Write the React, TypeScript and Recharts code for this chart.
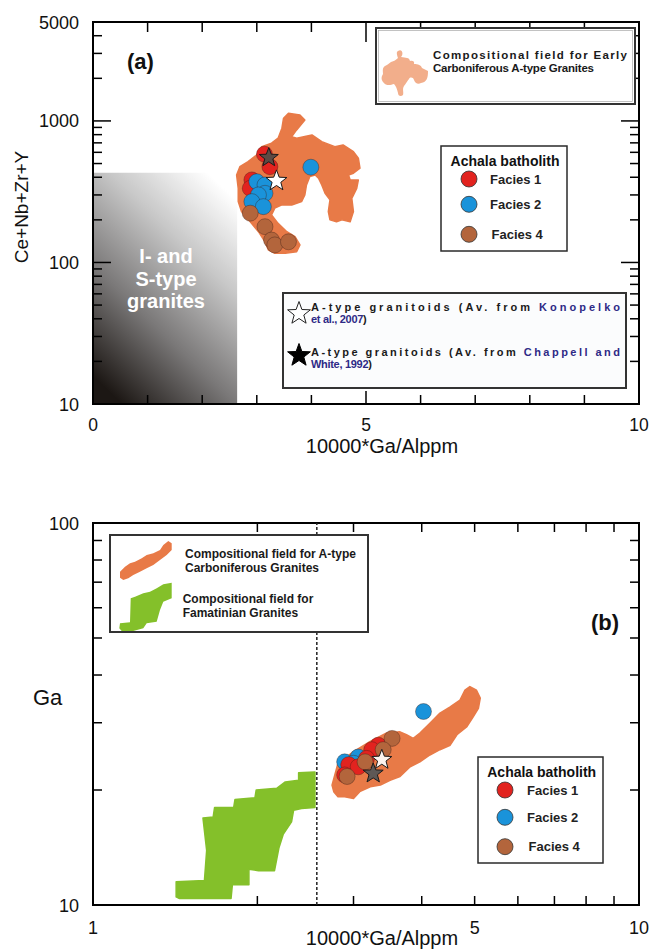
import React from "react"
import {
  ScatterChart,
  Scatter,
  XAxis,
  YAxis,
  ReferenceArea,
  ReferenceLine,
} from "recharts"

// ─── Colors ──────────────────────────────────────────────────────────────────
const RED = "#e2231f"
const BLUE = "#1a93da"
const BROWN = "#b3653c"
const FIELD_ORANGE = "#e87a47"
const FIELD_SALMON = "#f2ae8b"
const FIELD_GREEN = "#84c02a"
const REF_BLUE = "#2e2a86"
const INK = "#111"
const FONT = '"Liberation Sans", Arial, Helvetica, sans-serif'

// ─── Panel (a): 10000*Ga/Al vs Ce+Nb+Zr+Y ────────────────────────────────────
const A_X_TICKS = [0, 1, 2, 3, 4, 5, 6, 7, 8, 9, 10]
const A_X_LABELS = [0, 5, 10]
const A_Y_TICKS = [
  10, 20, 30, 40, 50, 60, 70, 80, 90,
  100, 200, 300, 400, 500, 600, 700, 800, 900,
  1000, 2000, 3000, 4000, 5000,
]
const A_Y_LABELS = [10, 100, 1000, 5000]
const A_Y_MAJOR = [10, 100, 1000]

// I- and S-type granite field (upper limits)
const IS_GA_AL_MAX = 2.64
const IS_SUM_MAX = 430

// Early Carboniferous A-type granites field outline
const A_FIELD_CARB: [number, number][] = [
  [3.58, 1133], [3.79, 1103], [3.88, 1016], [3.73, 864], [3.64, 774], [3.73, 755],
  [4.01, 796], [4.19, 714], [4.43, 658], [4.58, 677], [4.77, 607], [4.86, 545],
  [4.89, 463], [4.77, 427], [4.68, 415], [4.71, 383], [4.86, 383], [4.83, 334],
  [4.74, 284], [4.77, 229], [4.71, 194], [4.56, 200], [4.46, 194], [4.34, 200],
  [4.31, 229], [4.34, 277], [4.25, 308], [4.19, 353], [4.13, 394], [4.07, 415],
  [3.97, 404], [3.91, 353], [3.88, 300], [3.82, 269], [3.64, 255], [3.46, 255],
  [3.33, 242], [3.27, 217], [3.39, 189], [3.55, 165], [3.7, 152], [3.79, 133],
  [3.73, 119], [3.52, 116], [3.33, 116], [3.21, 123], [3.15, 140], [3.03, 165],
  [2.88, 194], [2.72, 229], [2.66, 269], [2.66, 334], [2.63, 415], [2.69, 475],
  [2.84, 516], [3.0, 575], [3.09, 658], [3.27, 696], [3.39, 755], [3.46, 888],
  [3.49, 1045],
]

const A_FACIES1: [number, number][] = [[3.14, 582], [3.24, 475], [2.91, 383], [2.88, 334]]
const A_FACIES2: [number, number][] = [
  [3.0, 372], [3.15, 353], [3.15, 308], [3.03, 300], [2.91, 269], [3.12, 248], [3.99, 471],
]
const A_FACIES4: [number, number][] = [[2.88, 223], [3.15, 179], [3.27, 144], [3.33, 133], [3.58, 140]]
const A_STAR_KONOPELKO: [number, number][] = [[3.36, 377]]
const A_STAR_CHAPPELL: [number, number][] = [[3.22, 551]]

// ─── Panel (b): 10000*Ga/Al vs Ga ────────────────────────────────────────────
const B_X_TICKS = [1, 2, 3, 4, 5, 6, 7, 8, 9, 10]
const B_X_LABELS = [1, 5, 10]
const B_Y_TICKS = [10, 20, 30, 40, 50, 60, 70, 80, 90, 100]
const B_Y_LABELS = [10, 100]
const B_BOUNDARY = 2.57

const B_FIELD_CARB: [number, number][] = [
  [2.74, 20.6], [2.81, 23.5], [3.0, 25.2], [3.22, 26.8], [3.45, 28.2], [3.65, 28.4],
  [3.75, 27.9], [3.86, 27.3], [3.97, 28.2], [4.14, 29.9], [4.32, 31.8], [4.51, 33.0],
  [4.7, 34.4], [4.8, 36.5], [4.9, 37.3], [5.04, 36.5], [5.12, 34.8], [5.08, 32.7],
  [4.97, 31.1], [4.84, 29.3], [4.64, 27.9], [4.51, 26.2], [4.32, 25.5], [4.14, 24.7],
  [3.97, 23.7], [3.81, 23.0], [3.65, 21.7], [3.5, 21.2], [3.36, 20.6], [3.22, 20.4],
  [3.08, 19.8], [3.0, 19.0], [2.89, 19.2], [2.81, 19.2], [2.76, 19.8],
]
const B_FIELD_FAMATINIAN: [number, number][] = [
  [1.42, 11.5], [1.6, 11.6], [1.615, 13.9], [1.59, 16.9], [1.66, 17.0], [1.67, 18.0],
  [1.81, 18.0], [1.82, 18.9], [1.98, 19.1], [1.99, 20.0], [2.17, 20.2], [2.25, 21.0],
  [2.38, 21.2], [2.38, 22.2], [2.55, 22.3], [2.55, 18.0], [2.41, 17.9], [2.33, 17.7],
  [2.31, 16.5], [2.23, 15.3], [2.19, 14.1], [2.15, 12.3], [2.01, 12.3], [1.93, 12.4],
  [1.93, 11.3], [1.8, 11.3], [1.79, 10.4], [1.44, 10.4], [1.42, 10.5],
]

const B_FACIES1: [number, number][] = [[3.33, 26.2], [3.24, 25.5], [3.17, 24.2], [2.94, 23.3], [3.06, 23.0], [2.89, 21.9]]
const B_FACIES2: [number, number][] = [[4.03, 32.1], [3.06, 24.4], [2.89, 23.7], [3.0, 23.5]]
const B_FACIES4: [number, number][] = [[3.53, 27.3], [3.4, 25.5], [3.15, 23.7], [2.92, 21.7]]
const B_STAR_KONOPELKO: [number, number][] = [[3.38, 24.0]]
const B_STAR_CHAPPELL: [number, number][] = [[3.26, 22.1]]

// ─── Layout ──────────────────────────────────────────────────────────────────
const W = 651
const A_H = 470
const B_H = 482
const A_PLOT = { left: 93, right: 639, top: 22, bottom: 404 }
const B_PLOT = { left: 93, right: 639, top: 53, bottom: 435 }

// ─── Helpers ─────────────────────────────────────────────────────────────────
const pts = (rows: [number, number][]) => rows.map(([x, y]) => ({ x, y }))

function starPoints(cx: number, cy: number, R: number, r: number) {
  const out: string[] = []
  for (let i = 0; i < 10; i++) {
    const rad = i % 2 === 0 ? R : r
    const a = -Math.PI / 2 + (i * Math.PI) / 5
    out.push(`${(cx + rad * Math.cos(a)).toFixed(1)},${(cy + rad * Math.sin(a)).toFixed(1)}`)
  }
  return out.join(" ")
}

const NoDot = () => <g />

const dot = (fill: string) => (p: any) => (
  <circle cx={p.cx} cy={p.cy} r={8} fill={fill} stroke="rgba(60,30,20,0.55)" strokeWidth={0.7} />
)

const star = (fill: string, R: number) => (p: any) => (
  <polygon points={starPoints(p.cx, p.cy, R, R * 0.42)} fill={fill} stroke="#1a1a1a" strokeWidth={1} />
)

const fieldLine = (color: string) => ({
  fill: color,
  stroke: color,
  strokeWidth: 1.5,
  strokeLinejoin: "round" as const,
})

// ─── Axis ticks (inward, mirrored on the opposite side) ──────────────────────
function ATickX(props: any) {
  const { x, payload } = props
  const v = payload.value
  const major = v === 5
  return (
    <g>
      <line x1={x} x2={x} y1={A_PLOT.bottom} y2={A_PLOT.bottom - (major ? 13 : 9)} stroke="#000" strokeWidth={1.5} />
      <line x1={x} x2={x} y1={A_PLOT.top} y2={A_PLOT.top + (major ? 20 : 10)} stroke="#000" strokeWidth={1.5} />
      {A_X_LABELS.includes(v) && (
        <text x={x} y={A_PLOT.bottom + 26.5} textAnchor="middle" fontSize={17.5} fill={INK} fontFamily={FONT}>
          {v}
        </text>
      )}
    </g>
  )
}

function ATickY(props: any) {
  const { y, payload } = props
  const v = payload.value
  const len = A_Y_MAJOR.includes(v) ? 18 : 9
  return (
    <g>
      <line x1={A_PLOT.left} x2={A_PLOT.left + len} y1={y} y2={y} stroke="#000" strokeWidth={1.5} />
      <line x1={A_PLOT.right - len} x2={A_PLOT.right} y1={y} y2={y} stroke="#000" strokeWidth={1.5} />
      {A_Y_LABELS.includes(v) && (
        <text x={A_PLOT.left - 14} y={y + 6.5} textAnchor="end" fontSize={18} fill={INK} fontFamily={FONT}>
          {v}
        </text>
      )}
    </g>
  )
}

function BTickX(props: any) {
  const { x, payload } = props
  const v = payload.value
  return (
    <g>
      <line x1={x} x2={x} y1={B_PLOT.bottom} y2={B_PLOT.bottom - 9} stroke="#000" strokeWidth={1.5} />
      <line x1={x} x2={x} y1={B_PLOT.top} y2={B_PLOT.top + 9} stroke="#000" strokeWidth={1.5} />
      {B_X_LABELS.includes(v) && (
        <text x={x} y={B_PLOT.bottom + 28.5} textAnchor="middle" fontSize={18} fill={INK} fontFamily={FONT}>
          {v}
        </text>
      )}
    </g>
  )
}

function BTickY(props: any) {
  const { y, payload } = props
  const v = payload.value
  return (
    <g>
      <line x1={B_PLOT.left} x2={B_PLOT.left + 9} y1={y} y2={y} stroke="#000" strokeWidth={1.5} />
      <line x1={B_PLOT.right - 9} x2={B_PLOT.right} y1={y} y2={y} stroke="#000" strokeWidth={1.5} />
      {B_Y_LABELS.includes(v) && (
        <text x={B_PLOT.left - 14} y={y + 6.5} textAnchor="end" fontSize={18} fill={INK} fontFamily={FONT}>
          {v}
        </text>
      )}
    </g>
  )
}

// ─── Panels ──────────────────────────────────────────────────────────────────
function PanelA() {
  return (
    <ScatterChart width={W} height={A_H} margin={{ top: 22, right: 12, bottom: 36, left: 33 }}>
      <XAxis
        type="number"
        dataKey="x"
        domain={[0, 10]}
        ticks={A_X_TICKS}
        interval={0}
        allowDataOverflow
        axisLine={false}
        tickLine={false}
        tick={ATickX}
        height={30}
      />
      <YAxis
        type="number"
        dataKey="y"
        scale="log"
        domain={[10, 5000]}
        ticks={A_Y_TICKS}
        interval={0}
        allowDataOverflow
        axisLine={false}
        tickLine={false}
        tick={ATickY}
        width={60}
      />
      <ReferenceArea x1={0} x2={IS_GA_AL_MAX} y1={10} y2={IS_SUM_MAX} fill="url(#isGradient)" fillOpacity={1} stroke="none" />
      <Scatter data={pts(A_FIELD_CARB)} line={fieldLine(FIELD_ORANGE)} lineJointType="linearClosed" shape={NoDot} isAnimationActive={false} />
      <Scatter data={pts(A_FACIES1)} shape={dot(RED)} isAnimationActive={false} />
      <Scatter data={pts(A_FACIES2)} shape={dot(BLUE)} isAnimationActive={false} />
      <Scatter data={pts(A_FACIES4)} shape={dot(BROWN)} isAnimationActive={false} />
      <Scatter data={pts(A_STAR_CHAPPELL)} shape={star("#5b4a44", 10)} isAnimationActive={false} />
      <Scatter data={pts(A_STAR_KONOPELKO)} shape={star("#ffffff", 11)} isAnimationActive={false} />
      <ReferenceArea x1={0} x2={10} y1={10} y2={5000} fill="none" stroke="#000" strokeWidth={2} />
    </ScatterChart>
  )
}

function PanelB() {
  return (
    <ScatterChart width={W} height={B_H} margin={{ top: 53, right: 12, bottom: 17, left: 33 }}>
      <XAxis
        type="number"
        dataKey="x"
        scale="log"
        domain={[1, 10]}
        ticks={B_X_TICKS}
        interval={0}
        allowDataOverflow
        axisLine={false}
        tickLine={false}
        tick={BTickX}
        height={30}
      />
      <YAxis
        type="number"
        dataKey="y"
        scale="log"
        domain={[10, 100]}
        ticks={B_Y_TICKS}
        interval={0}
        allowDataOverflow
        axisLine={false}
        tickLine={false}
        tick={BTickY}
        width={60}
      />
      <ReferenceLine x={B_BOUNDARY} stroke="#222" strokeWidth={1.5} strokeDasharray="3 2" />
      <Scatter data={pts(B_FIELD_FAMATINIAN)} line={fieldLine(FIELD_GREEN)} lineJointType="linearClosed" shape={NoDot} isAnimationActive={false} />
      <Scatter data={pts(B_FIELD_CARB)} line={fieldLine(FIELD_ORANGE)} lineJointType="linearClosed" shape={NoDot} isAnimationActive={false} />
      <Scatter data={pts(B_FACIES2)} shape={dot(BLUE)} isAnimationActive={false} />
      <Scatter data={pts(B_FACIES1)} shape={dot(RED)} isAnimationActive={false} />
      <Scatter data={pts(B_FACIES4)} shape={dot(BROWN)} isAnimationActive={false} />
      <Scatter data={pts(B_STAR_KONOPELKO)} shape={star("#fbf3ee", 10.5)} isAnimationActive={false} />
      <Scatter data={pts(B_STAR_CHAPPELL)} shape={star("#5e5856", 10.5)} isAnimationActive={false} />
      <ReferenceArea x1={1} x2={10} y1={10} y2={100} fill="none" stroke="#000" strokeWidth={2} />
    </ScatterChart>
  )
}

// ─── Legends and labels drawn over both panels ───────────────────────────────
function FaciesLegend({ x, y, w, h, titleX, titleY, dotX, rows, labelX }: any) {
  const colors = [RED, BLUE, BROWN]
  const names = ["Facies 1", "Facies 2", "Facies 4"]
  return (
    <g>
      <rect x={x} y={y} width={w} height={h} fill="#fff" stroke="#2a2a2a" strokeWidth={1.5} />
      <text x={titleX} y={titleY + 5} textAnchor="middle" fontSize={14} fontWeight="bold" fill={INK}>
        Achala batholith
      </text>
      {rows.map((ry: number, i: number) => (
        <g key={names[i]}>
          <circle cx={dotX} cy={ry} r={8} fill={colors[i]} stroke="#333" strokeWidth={0.8} />
          <text x={labelX + (i === 2 ? 1.5 : 0)} y={ry + 4.7} fontSize={13} fontWeight="bold" fill="#222">
            {names[i]}
          </text>
        </g>
      ))}
    </g>
  )
}

function Overlay() {
  return (
    <svg
      width={W}
      height={952}
      style={{ position: "absolute", left: 0, top: 0, pointerEvents: "none" }}
      fontFamily={FONT}
    >
      <defs>
        <linearGradient id="isGradient" x1="0.2" y1="1" x2="0.8" y2="0">
          <stop offset="0" stopColor="#1c1714" />
          <stop offset="0.35" stopColor="#7a7878" />
          <stop offset="0.7" stopColor="#c8c8c8" />
          <stop offset="1" stopColor="#ffffff" />
        </linearGradient>
      </defs>

      {/* panel (a) */}
      <text x={140.5} y={68.5} textAnchor="middle" fontSize={22} fontWeight="bold" fill={INK}>(a)</text>
      <text x={382} y={453} textAnchor="middle" fontSize={20} fill={INK}>10000*Ga/Alppm</text>
      <text transform="translate(28,207) rotate(-90)" textAnchor="middle" fontSize={19} fill={INK}>Ce+Nb+Zr+Y</text>

      <g fontSize={20} fontWeight="bold" fill="#fff" textAnchor="middle">
        <text x={166} y={262.5}>I- and</text>
        <text x={166} y={286}>S-type</text>
        <text x={166} y={307.5}>granites</text>
      </g>

      <rect x={376} y={28} width={259} height={76} fill="#fff" stroke="#333" strokeWidth={2} />
      <rect x={378.5} y={30.5} width={254} height={71} fill="none" stroke="#9a9a9a" strokeWidth={0.6} />
      <path
        d="M398 51 C402 48 404 54 401 57 C406 58 409 57 410 61 C412 60 415 61 414 64 C418 64 421 65 422 68 L428 71 C428 78 427 82 421 83 C418 85 415 83 414 80 C413 77 410 77 409 79 C407 81 406 84 404 86 C402 89 404 92 403 95 C401 97 398 96 398 93 C397 89 396 86 394 84 C391 85 386 86 384 83 C381 80 381 77 383 74 C383 71 382 68 385 66 C388 65 389 63 391 62 C394 61 396 60 398 58 C397 55 396 52 398 51 Z"
        fill={FIELD_SALMON}
      />
      <g fontSize={11.5} fontWeight="bold" fill="#1a1a1a">
        <text x={433} y={59} textLength={194} lengthAdjust="spacing">Compositional field for Early</text>
        <text x={433} y={72.3} textLength={161} lengthAdjust="spacing">Carboniferous A-type Granites</text>
      </g>

      <FaciesLegend x={441} y={146} w={126} h={105} titleX={505} titleY={160.7} dotX={469} rows={[179, 204.3, 234.3]} labelX={490} />

      <rect x={283} y={293} width={343} height={95} fill="#fbfcfd" stroke="#333" strokeWidth={2} />
      <polygon points={starPoints(299, 313.5, 12, 5)} fill="#fff" stroke="#222" strokeWidth={1} />
      <polygon points={starPoints(299, 355.5, 12, 5)} fill="#000" stroke="#000" strokeWidth={1} />
      <g fontSize={11} fontWeight="bold" fill="#1a1a1a">
        <text x={311} y={310.6} textLength={309} lengthAdjust="spacing">
          A-type granitoids (Av. from <tspan fill={REF_BLUE}>Konopelko</tspan>
        </text>
        <text x={311} y={323.2} letterSpacing={-0.3}>
          <tspan fill={REF_BLUE}>et al., 2007</tspan>)
        </text>
        <text x={311} y={355.6} textLength={309} lengthAdjust="spacing">
          A-type granitoids (Av. from <tspan fill={REF_BLUE}>Chappell and</tspan>
        </text>
        <text x={311} y={368} letterSpacing={-0.3}>
          <tspan fill={REF_BLUE}>White, 1992</tspan>)
        </text>
      </g>

      {/* panel (b) */}
      <text x={605} y={630} textAnchor="middle" fontSize={22} fontWeight="bold" fill={INK}>(b)</text>
      <text x={382} y={944.5} textAnchor="middle" fontSize={20} fill={INK}>10000*Ga/Alppm</text>
      <text x={33} y={705} fontSize={22} fill={INK}>Ga</text>

      <rect x={110} y={535} width={258} height={97} fill="#fff" stroke="#333" strokeWidth={2} />
      <polygon
        points="120,571.7 125,566.7 130,563.3 135,561.7 141.7,558.3 146.7,555 153.3,553.3 160,550 163.3,545 168.3,541 171.7,543.3 171.7,550 166.7,555 160,560 153.3,565 146.7,568.3 140,571.7 133.3,575 128.3,578.3 123.3,580 120,577.7"
        fill={FIELD_ORANGE}
      />
      <polygon
        points="120,623.3 130,622.3 130.7,598.3 135,596.7 143.3,593.3 150,591.7 156.7,588.3 163.3,584.3 171.7,582.7 171.7,598.3 163.3,601.7 160,610 156.7,621.7 146.7,623.3 143.3,628.3 133.3,631 121.7,631 119.3,628.3"
        fill={FIELD_GREEN}
      />
      <g fontSize={12} fontWeight="bold" fill="#1a1a1a">
        <text x={185} y={557.5}>Compositional field for A-type</text>
        <text x={185} y={571.5}>Carboniferous Granites</text>
        <text x={182.7} y={603.2}>Compositional field for</text>
        <text x={182.7} y={617.2}>Famatinian Granites</text>
      </g>

      <FaciesLegend x={478} y={757} w={125} h={106} titleX={541.7} titleY={772} dotX={505} rows={[790, 817.3, 846.7]} labelX={527} />
    </svg>
  )
}

export default function App() {
  return (
    <div style={{ position: "absolute", left: 0, top: 0, width: W, height: 952, background: "#fff" }}>
      <div style={{ position: "absolute", left: 0, top: 0 }}>
        <PanelA />
      </div>
      <div style={{ position: "absolute", left: 0, top: A_H }}>
        <PanelB />
      </div>
      <Overlay />
    </div>
  )
}
